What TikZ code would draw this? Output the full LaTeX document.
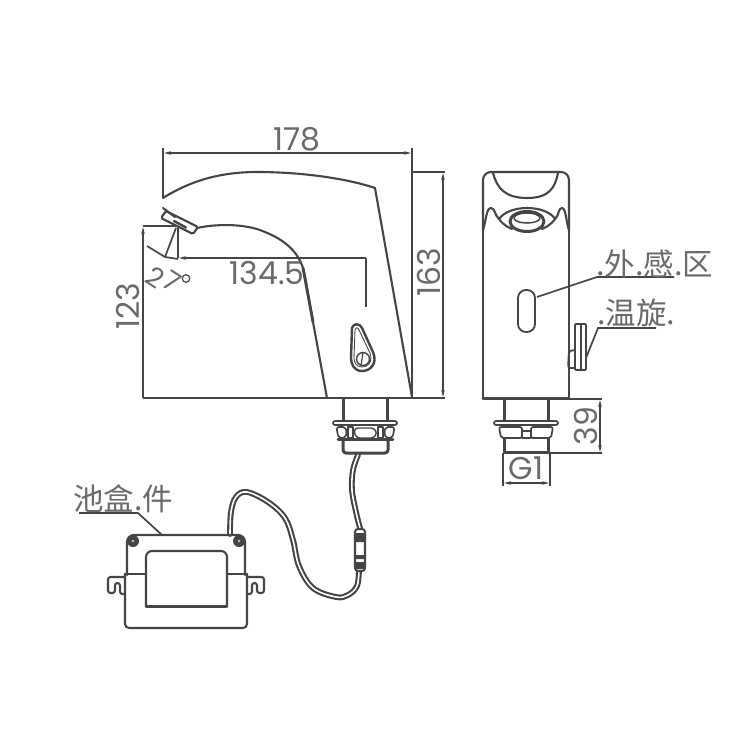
\documentclass[tikz,border=0pt]{standalone}
\usepackage{fontspec}
\setmainfont{Poppins}
\newfontfamily\cjkfont{Noto Sans CJK SC}
\usetikzlibrary{arrows.meta}
\definecolor{ink}{HTML}{454545}
\definecolor{txt}{HTML}{6A6A6A}
\tikzset{
  outline/.style={draw=ink,line width=2.1pt,line join=round,line cap=round},
  heavy/.style={draw=ink,line width=3.8pt,line join=round,line cap=round},
  thin line/.style={draw=ink,line width=1.2pt},
  ext/.style={draw=ink,line width=1.4pt},
  dim/.style={draw=ink,line width=1.3pt,{Stealth[length=7pt,width=3.5pt]}-{Stealth[length=7pt,width=3.5pt]}},
  dimtext/.style={text=txt,inner sep=0pt,font=\fontsize{31.5}{32}\selectfont},
  angtext/.style={text=txt,inner sep=0pt,font=\fontsize{27}{28}\selectfont},
  cjktext/.style={text=txt,inner sep=0pt,font=\cjkfont\fontsize{30.5}{32}\selectfont},
  leader/.style={draw=ink,line width=1.7pt},
  wire outer/.style={draw=ink,line width=5.8pt,line cap=round,line join=round},
  wire inner/.style={draw=white,line width=1.6pt,line cap=round,line join=round},
}
\begin{document}
\begin{tikzpicture}[x=1pt,y=-1pt]
\useasboundingbox[fill=white] (0,0) rectangle (739,739);

% ---- side view: body
\draw[outline] (163,198) .. controls (190,181) and (220,172) .. (257,172)
  .. controls (300,172) and (345,178) .. (375,188) -- (412,397);
\draw[outline,line width=2.8pt] (412,398) -- (327,398);
\draw[outline] (163,208) -- (175,217);
\draw[outline] (197,228) .. controls (215,224) and (245,223) .. (265,232)
  .. controls (285,240) and (298,252) .. (303,268)
  .. controls (306,280) and (309,300) .. (313,322);
\draw[outline,line width=2.8pt] (303,268) -- (313,322);
\draw[outline] (313,322) -- (327,398);
% aerator
\draw[outline,rounded corners=1.5pt] (161,218) -- (166,211) -- (198,227) -- (193,234) -- cycle;
\draw[heavy,line width=2.4pt] (174,221) -- (186,227.5);

% ---- side view: sensor teardrop
\draw[outline,line width=2.4pt] (352,328) .. controls (353,323) and (360,323) .. (362,328)
  -- (373,352) .. controls (378,364) and (370,371) .. (362,371)
  .. controls (354,371) and (351,364) .. (351,358) -- cycle;
\draw[thin line,line width=.9pt] (355,330) .. controls (356,327) and (358,327) .. (359,330)
  -- (370,353) .. controls (373,362) and (368,367) .. (362,367)
  .. controls (356,367) and (354,362) .. (354,358) -- cycle;
\draw[outline,line width=1.4pt] (363,359) circle[radius=6.5];
\draw[thin line] (363,352.5) -- (361,365.5);

% ---- side view: base
\draw[heavy] (343.5,399) -- (343.5,420);
\draw[heavy] (387.5,399) -- (387.5,420);
\draw[outline,line width=1.7pt,rounded corners=2pt,fill=white] (333,421) rectangle (397,425);
\draw[outline,line width=1.7pt,rounded corners=2pt] (337,427) -- (345,427) -- (347,432) -- (345,438) -- (339,438) -- (337,432) -- cycle;
\draw[outline,line width=1.7pt,rounded corners=2pt] (394,427) -- (386,427) -- (384,432) -- (386,438) -- (392,438) -- (394,432) -- cycle;
\draw[outline,line width=1.7pt] (348,427) rectangle (353,438);
\draw[outline,line width=1.7pt] (378,427) rectangle (383,438);
\draw[outline,line width=1.4pt,rounded corners=3pt] (355,428) -- (374,428) -- (377,433) -- (374,438) -- (357,438) -- (354,433) -- cycle;
\draw[heavy,line width=2.6pt] (338,439.5) -- (393,439.5);
\draw[heavy,line width=3pt,rounded corners=3pt] (343,440) -- (343,453) -- (388,453) -- (388,440);

% ---- side view: dimensions
\draw[ext] (163,148) -- (163,198);
\draw[ext] (412,148) -- (412,398);
\draw[dim] (164,153) -- (411,153);
\node[dimtext] (dimA) at (297,139) {178};
\draw[ext] (412,172) -- (445,172);
\draw[ext] (412,398) -- (445,398);
\draw[dim] (443,173) -- (443,397);
\node[dimtext,rotate=90] (dimB) at (429,272) {163};
\draw[ext] (143,398) -- (327,398);
\draw[ext] (143,226) -- (178,226);
\draw[dim,{Stealth[length=7pt,width=3.5pt]}-] (143,227) -- (143,398);
\node[dimtext,rotate=90] (dimC) at (128,306) {123};
\draw[ext] (178,226) -- (178,258);
\draw[dim,{Stealth[length=7pt,width=3.5pt]}-] (179,258) -- (366,258);
\draw[ext] (366,258) -- (366,307);
\node[dimtext] (dimD) at (267,273) {134.5};
\draw[ext,line width=1.7pt] (147,246) -- (165,257) -- (178,259);
\draw[ext,line width=1.7pt] (165,257) -- (176,228);
\node[angtext,rotate=-33] (angA) at (155,277) {2};
\node[angtext,rotate=-33] (angB) at (172,281) {7};
\node[draw=ink,circle,line width=1.2pt,minimum size=7.5pt,inner sep=0pt] (angC) at (186,278.5) {};

% ---- front view
\draw[outline,rounded corners=8pt] (483,230) -- (483,172) -- (569,172) -- (569,230);
\draw[outline] (483,230) -- (483,398);
\draw[outline] (569,230) -- (569,398);
\draw[heavy,line width=3pt] (483,398) -- (569,398);
\draw[outline] (493,173) .. controls (497,188) and (505,198) .. (527,198)
  .. controls (549,198) and (555,188) .. (558,173);
\draw[outline] (483,230) .. controls (486,222) and (486,208) .. (491,208)
  .. controls (495,208) and (495,216) .. (499,219)
  .. controls (504,212) and (515,208) .. (527,208)
  .. controls (539,208) and (551,212) .. (555,219)
  .. controls (559,216) and (558,208) .. (562,208)
  .. controls (566,208) and (566,222) .. (569,230);
\draw[outline] (499,219) .. controls (504,226) and (510,228) .. (512,229);
\draw[outline] (555,219) .. controls (550,226) and (544,228) .. (542,229);
\draw[heavy,line width=3pt,fill=white] (527,221.5) ellipse[x radius=17,y radius=10];
\draw[outline,line width=1.5pt] (527,218) ellipse[x radius=13,y radius=5];
\draw[outline,line width=1.8pt,rounded corners=8pt,fill=white] (518,290) rectangle (535,332);
\coordinate (ovalEnd) at (537,297);
\coordinate (ovalKnee) at (597,277);
\coordinate (ovalTail) at (674,277);
\draw[leader] (ovalEnd) -- (ovalKnee) -- (ovalTail);
\node[cjktext,anchor=base west] (lblA) at (596,275) {.外.感.区};

% knob
\draw[outline,line width=1.8pt,rounded corners=1pt] (575,324) -- (586,324) -- (586,370) -- (575,370) -- cycle;
\draw[outline,line width=1.8pt] (581,324) -- (581,369);
\draw[outline,line width=1.8pt,rounded corners=2.5pt] (575,350) -- (569,351) -- (568,368) -- (575,368);
\coordinate (knobEnd) at (586,358);
\coordinate (knobKnee) at (598,328);
\coordinate (knobTail) at (656,328);
\draw[leader] (knobEnd) -- (knobKnee) -- (knobTail);
\node[cjktext,anchor=base west] (lblB) at (597,324) {.温旋.};

% front base
\draw[heavy] (504.5,399) -- (504.5,420);
\draw[heavy] (548.5,399) -- (548.5,420);
\draw[outline,line width=1.7pt,rounded corners=2pt,fill=white] (494,421) rectangle (558,425);
\draw[outline,line width=1.7pt,rounded corners=2pt] (499,427) -- (522,427) -- (522,438) -- (501,438) -- cycle;
\draw[outline,line width=1.7pt,rounded corners=2pt] (553,427) -- (531,427) -- (531,438) -- (551,438) -- cycle;
\draw[outline,line width=1.7pt] (522,431) rectangle (531,438);
\draw[heavy] (504.5,439) -- (504.5,452);
\draw[heavy] (548.5,439) -- (548.5,452);
\draw[heavy,line width=3pt] (505,452.5) -- (548,452.5);
\draw[ext] (569,399) -- (602,399);
\draw[ext] (550,453) -- (602,453);
\draw[dim] (600,400) -- (600,452);
\node[dimtext,rotate=90] (dimE) at (586,426) {39};
\draw[ext] (503,453) -- (503,486);
\draw[ext] (550,453) -- (550,486);
\draw[dim] (504,483) -- (549,483);
\node[dimtext] (dimF) at (526,468) {G1};

% ---- wire
\def\wirepath{plot[smooth,tension=.6] coordinates {(358,455) (353,470) (352,490) (356,512) (360,528)}}
\draw[wire outer] \wirepath; \draw[wire inner] \wirepath;
\def\wirepathb{plot[smooth,tension=.6] coordinates {(359,570) (357,586) (348,595) (336,597) (313,588) (299,566) (293,540) (285,518) (268,502) (247,492) (236,497) (231,512) (230,534)}}
\draw[wire outer] \wirepathb; \draw[wire inner] \wirepathb;
% connector
\draw[outline,fill=white,rounded corners=3pt] (355,529) rectangle (365,571);
\fill[ink,rounded corners=1pt] (354.5,533) rectangle (365.5,542);
\fill[ink,rounded corners=1pt] (354.5,555) rectangle (365.5,559);
\fill[ink,rounded corners=1pt] (354.5,562) rectangle (365.5,569);

% ---- battery box
\draw[outline,rounded corners=7pt] (127,575) -- (127,535) -- (245,535) -- (245,575);
\draw[outline,rounded corners=4pt] (125,574) -- (125,628) -- (247,628) -- (247,574);
\draw[outline] (125,574) -- (146,574);
\draw[outline] (227,574) -- (247,574);
\draw[outline,rounded corners=6pt] (146,606.5) -- (146,551) -- (227,551) -- (227,606.5);
\draw[outline] (146,574) -- (146,606.5) -- (227,606.5) -- (227,574);
\draw[outline,rounded corners=2.5pt] (125,577) -- (108,577) -- (108,593) -- (115,593) -- (115,583) -- (120,583) -- (120,594) -- (125,594);
\draw[outline,rounded corners=2.5pt] (247,577) -- (264,577) -- (264,593) -- (257,593) -- (257,583) -- (252,583) -- (252,594) -- (247,594);
\fill[ink] (133,541) circle[radius=6];
\fill[ink] (239,541) circle[radius=6];
\fill[white!70!ink] (133,541) circle[radius=1.3];
\fill[white!70!ink] (239,541) circle[radius=1.3];
\coordinate (boxEnd) at (162,535);
\coordinate (boxKnee) at (138,513);
\coordinate (boxTail) at (79,513);
\draw[leader] (boxEnd) -- (boxKnee) -- (boxTail);
\node[cjktext,anchor=base west] (lblC) at (73,510) {池盒.件};
\end{tikzpicture}
\end{document}
